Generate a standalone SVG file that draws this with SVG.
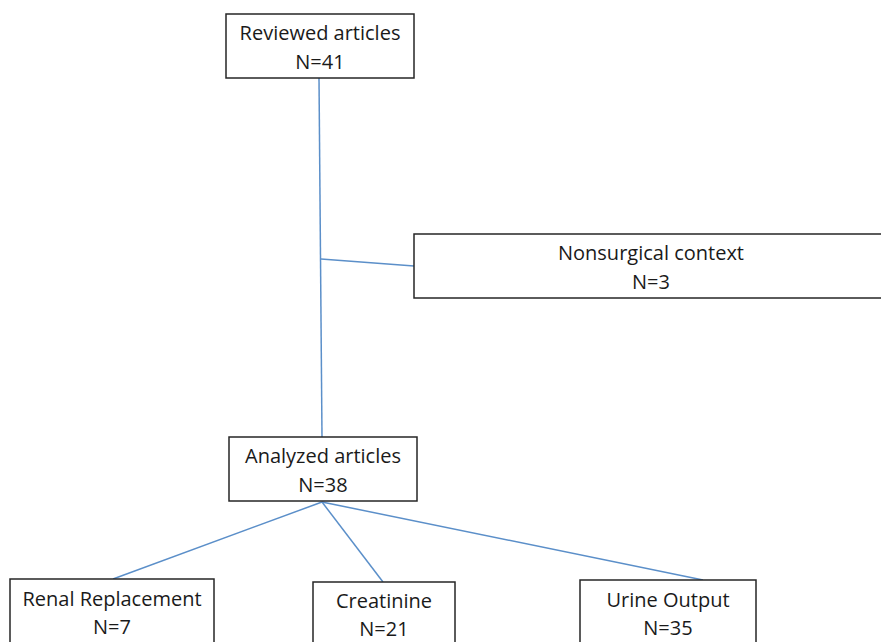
<svg xmlns="http://www.w3.org/2000/svg" width="881" height="642" viewBox="0 0 881 642">
<style>
.box{fill:#fff;stroke:#262626;stroke-width:1.5}
.t{font-family:"Open Sans","Liberation Sans",sans-serif;font-size:20px;fill:#1a1a1a;text-anchor:middle}
.c{stroke:#5b8fc9;stroke-width:1.5;fill:none}
</style>
<rect width="881" height="642" fill="#fff"/>
<g id="connectors">
<line class="c" x1="319" y1="78" x2="322" y2="437"/>
<line class="c" x1="321" y1="259" x2="414" y2="266"/>
<line class="c" x1="322" y1="502" x2="113" y2="579"/>
<line class="c" x1="322" y1="502" x2="383" y2="582"/>
<line class="c" x1="322" y1="502" x2="703" y2="580"/>
</g>
<g id="reviewed">
<rect class="box" x="226" y="14" width="188" height="64"/>
<text class="t" x="320" y="40">Reviewed articles</text>
<text class="t" x="320" y="69">N=41</text>
</g>
<g id="nonsurgical">
<rect class="box" x="414" y="234" width="474" height="64"/>
<text class="t" x="651" y="260">Nonsurgical context</text>
<text class="t" x="651" y="289">N=3</text>
</g>
<g id="analyzed">
<rect class="box" x="229" y="437" width="188" height="64"/>
<text class="t" x="323" y="463">Analyzed articles</text>
<text class="t" x="323" y="492">N=38</text>
</g>
<g id="renal">
<rect class="box" x="10" y="579" width="204" height="80"/>
<text class="t" x="112" y="606">Renal Replacement</text>
<text class="t" x="112" y="634">N=7</text>
</g>
<g id="creatinine">
<rect class="box" x="313" y="582" width="142" height="80"/>
<text class="t" x="384" y="608">Creatinine</text>
<text class="t" x="384" y="636">N=21</text>
</g>
<g id="urine">
<rect class="box" x="580" y="580" width="176" height="80"/>
<text class="t" x="668" y="607">Urine Output</text>
<text class="t" x="668" y="635">N=35</text>
</g>
</svg>
